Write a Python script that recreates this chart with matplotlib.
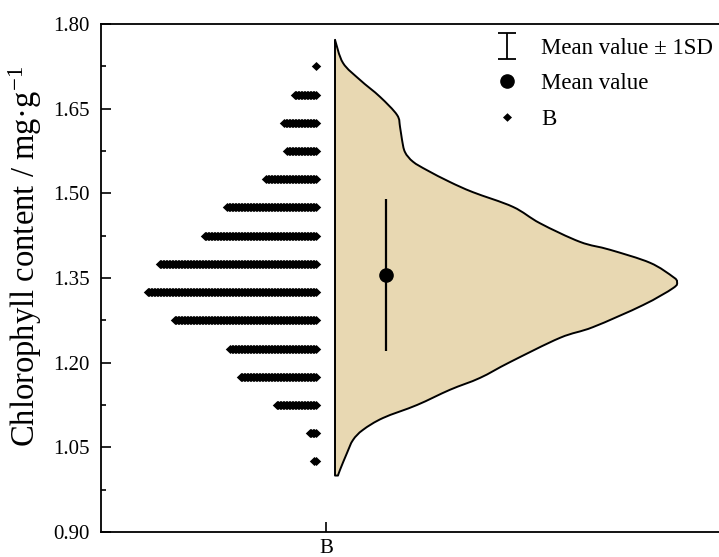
import matplotlib
matplotlib.use("Agg")
import matplotlib.pyplot as plt
from matplotlib.ticker import MultipleLocator, FixedLocator
from matplotlib.legend_handler import HandlerErrorbar
from matplotlib.path import Path
from matplotlib.patches import PathPatch
import numpy as np

plt.rcParams['font.family'] = ['Liberation Serif', 'DejaVu Serif']
plt.rcParams['mathtext.fontset'] = 'custom'
plt.rcParams['mathtext.rm'] = 'Liberation Serif'
plt.rcParams['mathtext.it'] = 'Liberation Serif:italic'

# ---- data ----
category = "B"
bin_centers = [1.025, 1.075, 1.125, 1.175, 1.225, 1.275, 1.325, 1.375,
               1.425, 1.475, 1.525, 1.575, 1.625, 1.675, 1.725]
bin_counts = [2, 5, 27, 51, 58, 95, 113, 105, 75, 60, 34, 20, 22, 15, 1]
mean_value = 1.355
sd_value = 0.135
# violin outline: y value and half width (relative units)
violin_y = [1.772, 1.731, 1.701, 1.671, 1.639, 1.618, 1.595, 1.573, 1.556,
            1.541, 1.520, 1.502, 1.476, 1.447, 1.414, 1.400, 1.377, 1.352,
            1.343, 1.332, 1.302, 1.263, 1.244, 1.201, 1.173, 1.152, 1.125,
            1.102, 1.081, 1.063, 1.040, 1.010, 1.000]
violin_w = [0, 8, 25, 45, 62, 65, 67, 70, 78, 92, 115, 138, 178, 205, 245,
            275, 315, 338, 342, 338, 308, 258, 225, 175, 145, 115, 82, 48,
            28, 18, 12, 5, 3]
y_ticks = [0.90, 1.05, 1.20, 1.35, 1.50, 1.65, 1.80]

# ---- layout ----
W, H = 719, 557
fig = plt.figure(figsize=(W / 100, H / 100), dpi=100)
ax_right_px = 760
ax = fig.add_axes([101 / W, 25 / H, (ax_right_px - 101) / W, 508 / H])
ax.set_xlim(0, (ax_right_px - 101) / 100)
ax.set_ylim(0.90, 1.80)

cat_x = 2.25
violin_base = 2.34
dot_right = 2.145
dot_step = 0.015
mean_x = 2.85


def smooth_path(xs, ys):
    """Catmull-Rom curve through the given points as cubic Bezier path."""
    pts = np.column_stack([xs, ys])
    n = len(pts)
    verts = [pts[0]]
    codes = [Path.MOVETO]
    for i in range(n - 1):
        p0 = pts[i - 1] if i > 0 else pts[i]
        p1 = pts[i]
        p2 = pts[i + 1]
        p3 = pts[i + 2] if i + 2 < n else pts[i + 1]
        c1 = p1 + (p2 - p0) / 6.0
        c2 = p2 - (p3 - p1) / 6.0
        verts += [c1, c2, p2]
        codes += [Path.CURVE4] * 3
    return verts, codes


# violin (half)
vx = violin_base + np.array(violin_w) / 100.0
vy = np.array(violin_y)
verts, codes = smooth_path(vx, vy)
fill_verts = verts + [(violin_base, violin_y[-1]), (violin_base, violin_y[0]),
                      (violin_base, violin_y[0])]
fill_codes = codes + [Path.LINETO, Path.LINETO, Path.CLOSEPOLY]
ax.add_patch(PathPatch(Path(fill_verts, fill_codes), facecolor='#E8D8B2',
                       edgecolor='black', lw=1.4, zorder=1,
                       joinstyle='round'))

# dot histogram
diamond = [(-1, 0), (0, 0.95), (1, 0), (0, -0.95), (-1, 0)]
for yc, cnt in zip(bin_centers, bin_counts):
    xs = dot_right - dot_step * np.arange(cnt)
    ax.plot(xs, [yc] * cnt, linestyle='none', marker=diamond, markersize=6.8,
            color='black', markeredgewidth=0, zorder=3)

# mean and SD
ax.errorbar([mean_x], [mean_value], yerr=[sd_value], fmt='none',
            ecolor='black', elinewidth=1.6, capsize=0, zorder=4)
ax.plot([mean_x], [mean_value], 'o', color='black', markersize=9.5, zorder=5)

# legend proxies
eb_proxy = ax.errorbar([np.nan], [np.nan], yerr=[0.1], fmt='none',
                       ecolor='black', elinewidth=1.3, capsize=6.5,
                       capthick=1.3, label='Mean value ± 1SD')
mean_proxy, = ax.plot([np.nan], [np.nan], 'o', color='black', markersize=9.5,
                      label='Mean value')
dot_proxy, = ax.plot([np.nan], [np.nan], marker=diamond, color='black',
                     markersize=6.5, markeredgewidth=0,
                     linestyle='none', label='B')
fs_leg = 16.5
leg = ax.legend(handles=[eb_proxy, mean_proxy, dot_proxy],
                loc='upper left', bbox_to_anchor=(493 / W, 1 - 38 / H),
                bbox_transform=fig.transFigure, frameon=False, fontsize=fs_leg,
                handlelength=1.2, handletextpad=0.89, labelspacing=0.62,
                borderpad=0, borderaxespad=0,
                handler_map={type(eb_proxy): HandlerErrorbar(yerr_size=0.58)})

# axes styling
ax.spines['right'].set_visible(False)
for s in ['left', 'bottom', 'top']:
    ax.spines[s].set_linewidth(1.3)
ax.yaxis.set_major_locator(FixedLocator(y_ticks))
ax.yaxis.set_minor_locator(MultipleLocator(0.075))
ax.set_yticklabels([f"{t:.2f}" for t in y_ticks])
ax.set_xticks([cat_x])
ax.set_xticklabels([category])
ax.tick_params(axis='both', which='major', direction='in', length=7.5,
               width=1.2, labelsize=15)
ax.tick_params(axis='y', which='minor', direction='in', length=3.6, width=1.2)
ax.tick_params(axis='y', which='major', pad=8)
ax.tick_params(axis='x', which='major', pad=5)
ax.tick_params(top=False, right=False, which='both')
ax.set_ylabel('Chlorophyll content / mg·g$^{-1}$', fontsize=23.5)
ax.yaxis.set_label_coords(44 / W, 1 - 256 / H, transform=fig.transFigure)

fig.savefig('out.png', dpi=100)
